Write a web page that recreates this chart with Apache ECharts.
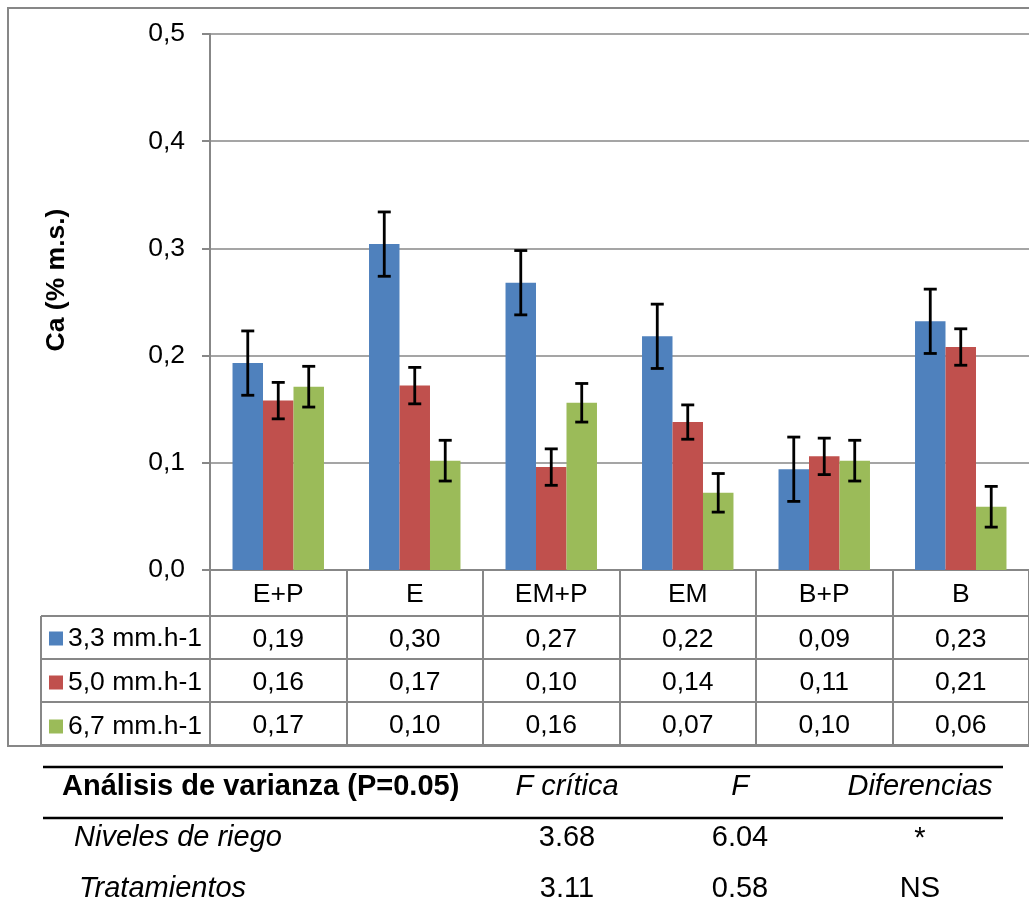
<!DOCTYPE html>
<html>
<head>
<meta charset="utf-8">
<title>Ca (% m.s.)</title>
<script src="https://cdn.jsdelivr.net/npm/echarts@6/dist/echarts.min.js"></script>
<style>
  html, body { margin: 0; padding: 0; background: #fff; }
  #chart { width: 1029px; height: 918px; }
</style>
</head>
<body>
<div id="chart"></div>
<script>
// ---- data ----
const categories = ['E+P', 'E', 'EM+P', 'EM', 'B+P', 'B'];
const seriesNames = ['3,3 mm.h-1', '5,0 mm.h-1', '6,7 mm.h-1'];
const rate33 = [0.193, 0.304, 0.268, 0.218, 0.094, 0.232];
const rate50 = [0.158, 0.172, 0.096, 0.138, 0.106, 0.208];
const rate67 = [0.171, 0.102, 0.156, 0.072, 0.102, 0.059];
const err33 = [0.030, 0.030, 0.030, 0.030, 0.030, 0.030];
const err50 = [0.017, 0.017, 0.017, 0.016, 0.017, 0.017];
const err67 = [0.019, 0.019, 0.018, 0.018, 0.019, 0.019];
const yTicks = [0, 0.1, 0.2, 0.3, 0.4, 0.5];

// analysis of variance table
const anovaHeader = ['Análisis de varianza (P=0.05)', 'F crítica', 'F', 'Diferencias'];
const anovaRowNames = ['Niveles de riego', 'Tratamientos'];
const anovaFcrit = ['3.68', '3.11'];
const anovaF = ['6.04', '0.58'];
const anovaDiff = ['*', 'NS'];

// ---- layout ----
const FONT = "'Liberation Sans', Arial, sans-serif";
const FS = 26.5;                         // chart text size
const colors = ['#4F81BD', '#C0504D', '#9BBB59'];
const lineGray = '#878787';
const gridLeft = 210, gridTop = 34, gridH = 536, gridW = 832;
const axisY = gridTop + gridH;           // y of the value 0 line
const headerH = 46, rowH = 43;           // data table rows
const legendColLeft = 41;
const gapRatio = 0.33;

const values = [rate33, rate50, rate67];
const errors = [err33, err50, err67];
const fmt2 = v => v.toFixed(2).replace('.', ',');

const chart = echarts.init(document.getElementById('chart'), null, { renderer: 'canvas' });

// category axis + one offset axis per data-table row
const xAxes = [{
  type: 'category', data: categories, gridIndex: 0, position: 'bottom',
  axisLine: { show: true, lineStyle: { color: lineGray, width: 2 } },
  axisTick: { show: true, length: headerH, interval: 0, lineStyle: { color: lineGray, width: 2 } },
  axisLabel: { interval: 0, margin: headerH / 2 + 2, verticalAlign: 'middle', fontSize: FS, color: '#000', fontFamily: FONT },
  splitLine: { show: false }
}];
values.forEach((arr, k) => {
  xAxes.push({
    type: 'category', data: categories, gridIndex: 0, position: 'bottom',
    offset: headerH + k * rowH,
    axisLine: { show: true, lineStyle: { color: lineGray, width: 2 } },
    axisTick: { show: true, length: rowH, interval: 0, lineStyle: { color: lineGray, width: 2 } },
    axisLabel: {
      interval: 0, margin: rowH / 2 + 2, verticalAlign: 'middle', fontSize: FS, color: '#000', fontFamily: FONT,
      formatter: (v, i) => fmt2(arr[i])
    },
    splitLine: { show: false }
  });
});

const barSeries = values.map((arr, s) => ({
  name: seriesNames[s], type: 'bar', xAxisIndex: 0, yAxisIndex: 0,
  data: arr, barGap: '0%', barCategoryGap: (gapRatio * 100) + '%',
  itemStyle: { color: colors[s] }, z: 2
}));

const errSeries = values.map((arr, s) => ({
  name: 'err-' + s, type: 'custom', xAxisIndex: 0, yAxisIndex: 0, z: 5,
  data: arr.map((v, i) => [i, v - errors[s][i], v + errors[s][i]]),
  renderItem: (params, api) => {
    const ci = api.value(0);
    const lo = api.coord([ci, api.value(1)]);
    const hi = api.coord([ci, api.value(2)]);
    const band = api.size([1, 0])[0];
    const bw = band * (1 - gapRatio) / 3;
    const x = lo[0] + (s - 1) * bw;
    const cap = 6.5;
    const st = { stroke: '#000', lineWidth: 2.8 };
    return {
      type: 'group', children: [
        { type: 'line', shape: { x1: x, y1: lo[1], x2: x, y2: hi[1] }, style: st },
        { type: 'line', shape: { x1: x - cap, y1: lo[1], x2: x + cap, y2: lo[1] }, style: st },
        { type: 'line', shape: { x1: x - cap, y1: hi[1], x2: x + cap, y2: hi[1] }, style: st }
      ]
    };
  }
}));

// table borders for the legend column, chart frame and the ANOVA table
const tableBottom = axisY + headerH + 3 * rowH;
const graphics = [
  { type: 'rect', shape: { x: 8, y: 8, width: 1060, height: tableBottom - 8 + 1 },
    style: { fill: 'none', stroke: lineGray, lineWidth: 2 }, z: 0 },
  { type: 'line', shape: { x1: legendColLeft, y1: axisY + headerH, x2: legendColLeft, y2: tableBottom },
    style: { stroke: lineGray, lineWidth: 2 } },
  { type: 'line', shape: { x1: legendColLeft, y1: tableBottom, x2: gridLeft + gridW, y2: tableBottom },
    style: { stroke: lineGray, lineWidth: 2 } },
  { type: 'text', x: 57, y: 280, rotation: Math.PI / 2,
    style: { text: 'Ca (% m.s.)', fontSize: FS, fontWeight: 'bold', fontFamily: FONT, fill: '#000',
             align: 'center', verticalAlign: 'middle' } }
];
for (let k = 0; k < 3; k++) {
  const y = axisY + headerH + k * rowH;
  graphics.push({ type: 'line', shape: { x1: legendColLeft, y1: y, x2: gridLeft, y2: y },
    style: { stroke: lineGray, lineWidth: 2 } });
}

// ANOVA table
const aTop = 767, aRow = 51, aLeft = 43, aRight = 1003, aLift = 6;
const colX = [62, 567, 740, 920];
graphics.push({ type: 'line', shape: { x1: aLeft, y1: aTop, x2: aRight, y2: aTop }, style: { stroke: '#000', lineWidth: 2.5 } });
graphics.push({ type: 'line', shape: { x1: aLeft, y1: aTop + aRow, x2: aRight, y2: aTop + aRow }, style: { stroke: '#000', lineWidth: 2.5 } });
anovaHeader.forEach((t, j) => {
  graphics.push({ type: 'text', x: colX[j], y: aTop + aRow / 2 - aLift,
    style: { text: t, fontSize: 29, fontFamily: FONT, fill: '#000',
             fontWeight: j === 0 ? 'bold' : 'normal', fontStyle: j === 0 ? 'normal' : 'italic',
             align: j === 0 ? 'left' : 'center', verticalAlign: 'middle' } });
});
anovaRowNames.forEach((name, r) => {
  const y = aTop + aRow + aRow / 2 + r * aRow - aLift;
  graphics.push({ type: 'text', x: r === 0 ? 74 : 79, y,
    style: { text: name, fontSize: 29, fontStyle: 'italic', fontFamily: FONT, fill: '#000', align: 'left', verticalAlign: 'middle' } });
  [anovaFcrit[r], anovaF[r], anovaDiff[r]].forEach((t, j) => {
    graphics.push({ type: 'text', x: colX[j + 1], y: t === '*' ? y + 1 : y,
      style: { text: t, fontSize: 29, fontFamily: FONT, fill: '#000', align: 'center', verticalAlign: 'middle' } });
  });
});

chart.setOption({
  animation: false,
  backgroundColor: '#fff',
  textStyle: { fontFamily: FONT },
  grid: { left: gridLeft, top: gridTop, width: gridW, height: gridH, containLabel: false },
  legend: {
    data: seriesNames, orient: 'vertical', left: 49, top: axisY + headerH + 9,
    padding: 0, itemGap: rowH - 26, itemWidth: 14, itemHeight: 14, icon: 'rect',
    textStyle: { fontSize: FS, lineHeight: 26, color: '#000', fontFamily: FONT, padding: [0, 0, 0, 0] },
    selectedMode: false
  },
  xAxis: xAxes,
  yAxis: {
    type: 'value', min: 0, max: 0.5, interval: 0.1,
    axisLine: { show: true, lineStyle: { color: lineGray, width: 2 } },
    axisTick: { show: true, length: 8, lineStyle: { color: lineGray, width: 2 } },
    axisLabel: { margin: 25, fontSize: FS, color: '#000', fontFamily: FONT,
                 formatter: v => yTicks.includes(+v.toFixed(1)) ? v.toFixed(1).replace('.', ',') : '' },
    splitLine: { show: true, lineStyle: { color: lineGray, width: 1.6 } }
  },
  series: [...barSeries, ...errSeries],
  graphic: graphics
});
</script>
</body>
</html>
